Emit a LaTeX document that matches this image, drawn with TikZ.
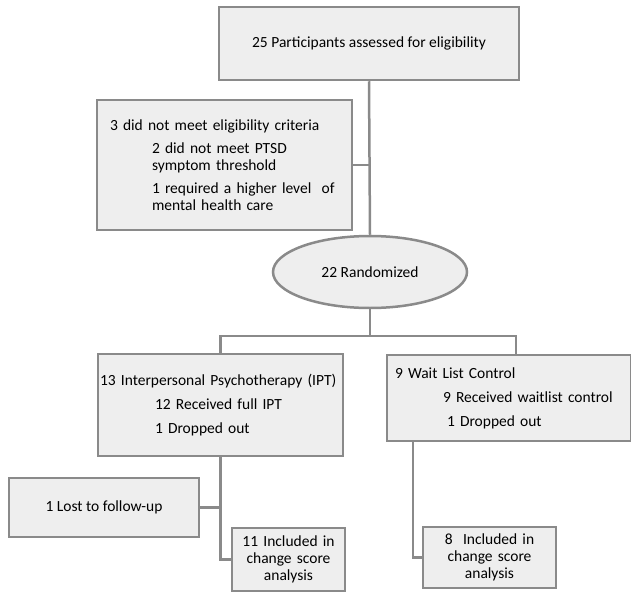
\documentclass[tikz,border=0pt]{standalone}
\usepackage{fontspec}
\setmainfont{Carlito}
\usetikzlibrary{shapes.geometric}
\definecolor{boxfill}{HTML}{EEEEEE}
\definecolor{boxline}{HTML}{8A8A8A}
\tikzset{
  flowbox/.style={draw=boxline, line width=2.5pt, fill=boxfill, inner ysep=0pt, font=\fontsize{15.5}{17}\selectfont},
  flowline/.style={draw=boxline, line width=2.5pt},
}
\begin{document}
\begin{tikzpicture}[x=1pt, y=-1pt]
\useasboundingbox (0,0) rectangle (631,594);
\node[flowbox, minimum width=300pt, minimum height=73pt] (assess) at (369,43.5) {25 Participants assessed for eligibility};
\node[flowbox, align=left, text width=229pt, inner xsep=13pt, minimum height=130pt] (excl) at (224.5,165) {3 did not meet eligibility criteria\\[6pt]
\hspace*{42pt}2 did not meet PTSD\\\hspace*{42pt}symptom threshold\\[6pt]
\hspace*{42pt}1 required a higher level\ \ of\\\hspace*{42pt}mental health care};
\node[flowbox, ellipse, inner sep=0pt, minimum width=194pt, minimum height=72pt] (rand) at (370,272) {22 Randomized};
\node[flowbox, align=left, text width=241pt, inner xsep=2pt, minimum height=102pt] (ipt) at (220.5,405) {13 Interpersonal Psychotherapy (IPT)\\[7pt]
\hspace*{55pt}12 Received full IPT\\[7pt]\hspace*{55pt}1 Dropped out};
\node[flowbox, align=left, text width=228pt, inner xsep=8pt, minimum height=86pt] (wlc) at (509,398) {9 Wait List Control\\[7pt]
\hspace*{48pt}9 Received waitlist control\\[7pt]\hspace*{52pt}1 Dropped out};
\node[flowbox, minimum width=190pt, minimum height=59pt] (lost) at (104,507.5) {1 Lost to follow-up};
\node[flowbox, align=center, text width=103pt, inner xsep=5pt, minimum height=63pt] (incipt) at (288.5,559.5) {11 Included in\\change score\\analysis};
\node[flowbox, align=center, text width=123pt, inner xsep=5pt, minimum height=61pt] (incwlc) at (489.5,557.5) {8\ \ Included in\\change score\\analysis};
\coordinate (split) at (370,336);
\draw[flowline] (assess.south) -- (rand.north);
\draw[flowline] (excl.east -| rand.north) -- (excl.east);
\draw[flowline] (rand.south) -- (split);
\draw[flowline] (ipt.north) |- (split) -| ([xshift=7pt]wlc.north);
\draw[flowline] (ipt.south) |- (incipt.west);
\draw[flowline] (lost.east) -- (lost.east -| ipt.south);
\draw[flowline] ([xshift=-96pt]wlc.south) |- (incwlc.west);
\end{tikzpicture}
\end{document}
